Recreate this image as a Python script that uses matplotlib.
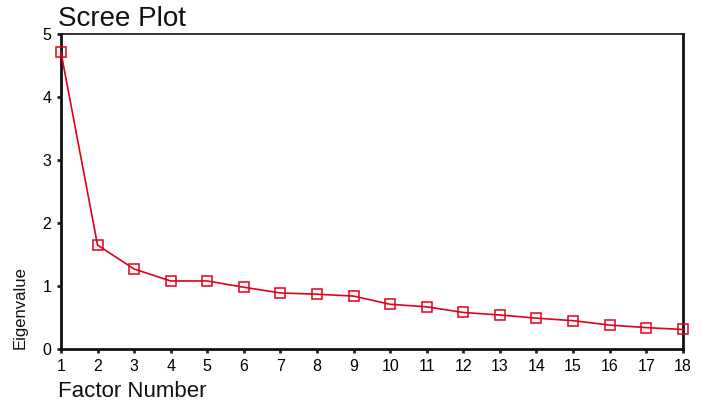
import matplotlib
matplotlib.use("Agg")
import matplotlib.pyplot as plt

plt.rcParams["font.family"] = ["Liberation Sans", "DejaVu Sans"]

# Scree plot data
factors = list(range(1, 19))
eigenvalues = [4.71, 1.65, 1.27, 1.08, 1.08, 0.98, 0.89, 0.87, 0.84,
               0.71, 0.67, 0.58, 0.54, 0.49, 0.45, 0.38, 0.34, 0.31]
y_ticks = [0, 1, 2, 3, 4, 5]

RED = "#e2001a"

fig = plt.figure(figsize=(7.09, 4.20), dpi=100)
ax = fig.add_axes([0.086, 0.169, 0.877, 0.750])

ax.plot(factors, eigenvalues, color=RED, lw=1.2, marker="s", markersize=7.5,
        markerfacecolor="none", markeredgecolor=RED, markeredgewidth=1.1,
        clip_on=False, zorder=3)

ax.set_xlim(1, 18)
ax.set_ylim(0, 5)
ax.set_xticks(factors)
ax.set_yticks(y_ticks)
ax.tick_params(axis="both", labelsize=11.5, length=3, width=2, direction="out",
               color="#222222", pad=4)

for side in ["left", "bottom", "right"]:
    ax.spines[side].set_linewidth(2)
    ax.spines[side].set_color("#111111")
ax.spines["top"].set_linewidth(1.2)
ax.spines["top"].set_color("#111111")

fig.text(0.082, 0.955, "Scree Plot", fontsize=20, ha="left", va="center",
         color="#111111")
fig.text(0.082, 0.067, "Factor Number", fontsize=16, ha="left", va="center",
         color="#111111")
fig.text(0.028, 0.17, "Eigenvalue", fontsize=12, rotation=90, ha="center",
         va="bottom", color="#111111")

fig.savefig("out.png", dpi=100)
